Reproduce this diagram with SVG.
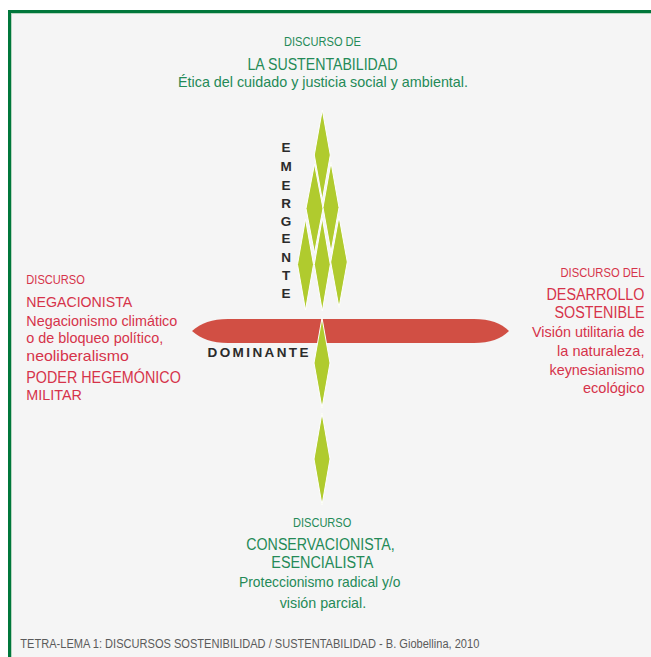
<svg xmlns="http://www.w3.org/2000/svg" width="651" height="657" viewBox="0 0 651 657">
<style>
.g{fill:#248a57;font-family:"Liberation Sans",Arial,sans-serif}
.r{fill:#d6334a;font-family:"Liberation Sans",Arial,sans-serif}
.e{fill:#5a5a5a;font-family:"Liberation Sans",Arial,sans-serif}
.k{fill:#2b2b2b;font-family:"Liberation Sans",Arial,sans-serif;font-weight:bold;font-size:13.5px}
.dm{fill:#b0cb2e;stroke:#ffffff;stroke-width:1}
.s12{font-size:12.5px}.s15{font-size:15px}.s16{font-size:16px}.s17{font-size:17px}
</style>
<rect x="0" y="0" width="651" height="657" fill="#ffffff"/>
<rect x="8" y="10" width="660" height="660" fill="#f5f5f5"/>
<g id="frame">
<rect x="8" y="10" width="643" height="3" fill="#00773b"/>
<rect x="8" y="10" width="3" height="647" fill="#00773b"/>
<rect x="11" y="13" width="640" height="1" fill="#b7d6c0"/>
<rect x="11" y="13" width="1" height="644" fill="#b7d6c0"/>
</g>
<g id="connectors">
<path id="dominante-bar" d="M192,331 C201,323 212,319 228,319 L474,319 C490,319 501,323 509,331 C501,339 490,343 474,343 L228,343 C212,343 201,339 192,331 Z" fill="#d14f44"/>
<g id="emergente-diamonds">
<path class="dm" d="M322.3,110 L330.3,155 L322.3,200 L314.3,155 Z"/>
<path class="dm" d="M314.5,164 L323,208.5 L314.5,253 L306,208.5 Z"/>
<path class="dm" d="M331,162.5 L339,207.5 L331,252 L323,207.5 Z"/>
<path class="dm" d="M305.5,219 L313.5,264.5 L305.5,310 L297.5,264.5 Z"/>
<path class="dm" d="M322.3,218 L330.3,264.5 L322.3,311 L314.3,264.5 Z"/>
<path class="dm" d="M339,216.5 L347.3,262 L339,307.5 L330.7,262 Z"/>
</g>
<path class="dm" d="M322,318 L330,363 L322,408 L314,363 Z" stroke-width="0.6"/>
<path class="dm" d="M322,413 L330,459 L322,505 L314,459 Z" stroke-width="0.6"/>
</g>
<g id="label-dominante">
<text class="k" x="207.5" y="357" textLength="101" lengthAdjust="spacing">DOMINANTE</text>
</g>
<g id="label-emergente" class="k" text-anchor="middle">
<text x="286" y="151.7">E</text>
<text x="286" y="171">M</text>
<text x="286" y="190">E</text>
<text x="286" y="208.3">R</text>
<text x="286" y="225.7">G</text>
<text x="286" y="243.3">E</text>
<text x="286" y="262.3">N</text>
<text x="286" y="280">T</text>
<text x="286" y="298.3">E</text>
</g>
<g id="node-sustentabilidad" class="g">
<text class="s12" x="284" y="45.7" font-size="11.5px" textLength="77" lengthAdjust="spacingAndGlyphs">DISCURSO DE</text>
<text class="s17" x="247.5" y="70" textLength="150" lengthAdjust="spacingAndGlyphs">LA SUSTENTABILIDAD</text>
<text class="s15" x="178" y="87.3" textLength="290" lengthAdjust="spacingAndGlyphs">Ética del cuidado y justicia social y ambiental.</text>
</g>
<g id="node-negacionista" class="r">
<text class="s12" x="26.3" y="284" textLength="58.5" lengthAdjust="spacingAndGlyphs">DISCURSO</text>
<text class="s15" x="26.3" y="306.7" textLength="106" lengthAdjust="spacingAndGlyphs">NEGACIONISTA</text>
<text class="s15" x="26.3" y="325.7" textLength="151" lengthAdjust="spacingAndGlyphs">Negacionismo climático</text>
<text class="s15" x="26.3" y="343.3" textLength="137" lengthAdjust="spacingAndGlyphs">o de bloqueo político,</text>
<text class="s15" x="26.3" y="361" textLength="102.5" lengthAdjust="spacingAndGlyphs">neoliberalismo</text>
<text class="s16" x="26.3" y="382.7" textLength="154.5" lengthAdjust="spacingAndGlyphs">PODER HEGEMÓNICO</text>
<text class="s15" x="26.3" y="400" textLength="55.5" lengthAdjust="spacingAndGlyphs">MILITAR</text>
</g>
<g id="node-desarrollo" class="r" text-anchor="end">
<text class="s12" x="644.5" y="277.3" textLength="84" lengthAdjust="spacingAndGlyphs">DISCURSO DEL</text>
<text class="s16" x="644.5" y="300" textLength="98" lengthAdjust="spacingAndGlyphs">DESARROLLO</text>
<text class="s16" x="644.5" y="318.3" textLength="90" lengthAdjust="spacingAndGlyphs">SOSTENIBLE</text>
<text class="s15" x="644.5" y="337.3" textLength="112.5" lengthAdjust="spacingAndGlyphs">Visión utilitaria de</text>
<text class="s15" x="644.5" y="356" textLength="87.5" lengthAdjust="spacingAndGlyphs">la naturaleza,</text>
<text class="s15" x="644.5" y="375" textLength="95" lengthAdjust="spacingAndGlyphs">keynesianismo</text>
<text class="s15" x="644.5" y="393.3" textLength="61.5" lengthAdjust="spacingAndGlyphs">ecológico</text>
</g>
<g id="node-conservacionista" class="g">
<text x="293" y="526.7" font-size="13px" textLength="58.3" lengthAdjust="spacingAndGlyphs">DISCURSO</text>
<text class="s16" x="246.3" y="550" textLength="148.5" lengthAdjust="spacingAndGlyphs">CONSERVACIONISTA,</text>
<text class="s16" x="271.3" y="568.3" textLength="102" lengthAdjust="spacingAndGlyphs">ESENCIALISTA</text>
<text class="s15" x="239" y="586.7" textLength="161.5" lengthAdjust="spacingAndGlyphs">Proteccionismo radical y/o</text>
<text class="s15" x="279.7" y="608.3" textLength="86.5" lengthAdjust="spacingAndGlyphs">visión parcial.</text>
</g>
<g id="caption" class="e">
<text class="s12" x="20.3" y="648.3" textLength="459" lengthAdjust="spacingAndGlyphs">TETRA-LEMA 1: DISCURSOS SOSTENIBILIDAD / SUSTENTABILIDAD - B. Giobellina, 2010</text>
</g>
</svg>
